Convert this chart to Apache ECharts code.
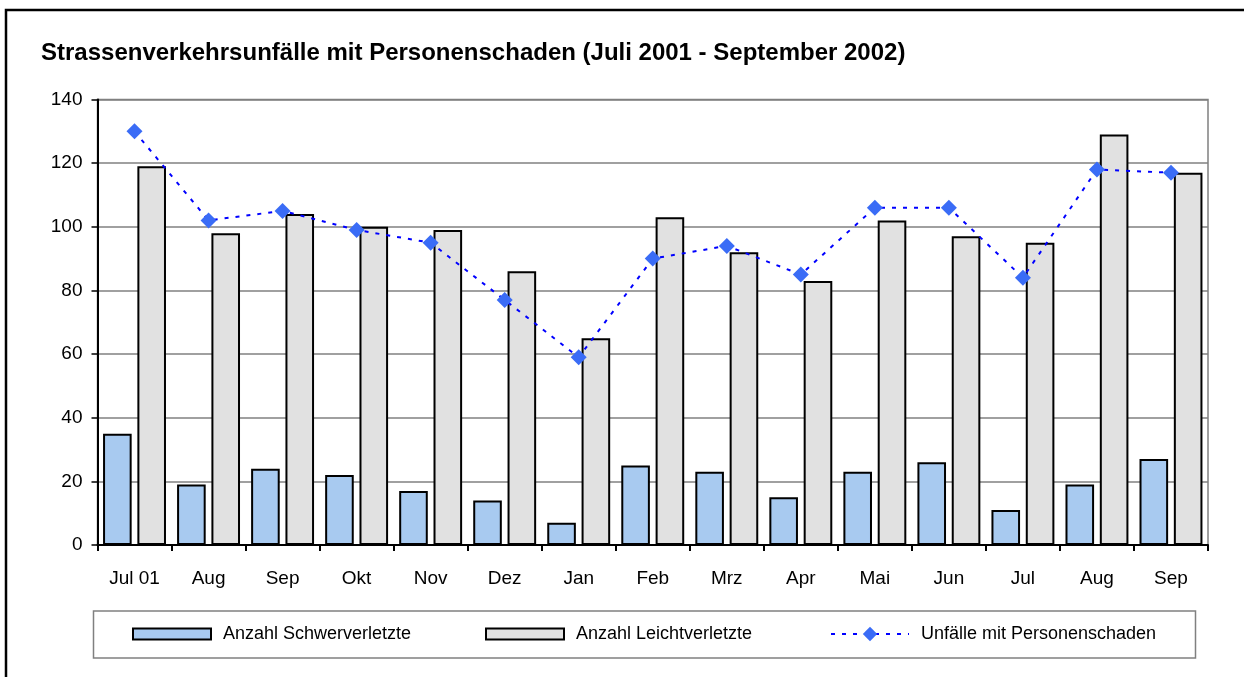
<!DOCTYPE html>
<html>
<head>
<meta charset="utf-8">
<script src="https://cdn.jsdelivr.net/npm/echarts@6/dist/echarts.min.js"></script>
<style>
html,body{margin:0;padding:0;background:#fff;}
#chart{width:1244px;height:677px;}
</style>
</head>
<body>
<div id="chart"></div>
<script>
const categories = ['Jul 01','Aug','Sep','Okt','Nov','Dez','Jan','Feb','Mrz','Apr','Mai','Jun','Jul','Aug','Sep'];
const schwerverletzte = [35,19,24,22,17,14,7,25,23,15,23,26,11,19,27];
const leichtverletzte = [119,98,104,100,99,86,65,103,92,83,102,97,95,129,117];
const unfaelle = [130,102,105,99,95,77,59,90,94,85,106,106,84,118,117];
const yTicks = {min:0, max:140, interval:20};
const seriesNames = ['Anzahl Schwerverletzte','Anzahl Leichtverletzte','Unfälle mit Personenschaden'];

const chart = echarts.init(document.getElementById('chart'), null, {renderer:'canvas'});
const font = 'Liberation Sans, Arial, sans-serif';
const legendText = {color:'#000', fontSize:18, fontFamily:font, padding:[0,0,0,7]};
chart.setOption({
  animation:false,
  backgroundColor:'#fff',
  title:{
    text:'Strassenverkehrsunfälle mit Personenschaden (Juli 2001 - September 2002)',
    left:41, top:41, padding:0,
    textStyle:{fontSize:24, fontWeight:'bold', color:'#000', fontFamily:font}
  },
  graphic:[
    {type:'rect', shape:{x:6, y:10, width:1300, height:700}, style:{fill:'none', stroke:'#000', lineWidth:2.5}, z:100},
    {type:'rect', shape:{x:93.5, y:611, width:1102, height:47}, style:{fill:'none', stroke:'#808080', lineWidth:1.5}, z:1}
  ],
  legend:[
    {data:[seriesNames[0]], icon:'rect', left:132, top:625, itemWidth:78, itemHeight:11, textStyle:legendText, padding:0},
    {data:[seriesNames[1]], icon:'rect', left:485, top:625, itemWidth:78, itemHeight:11, textStyle:legendText, padding:0},
    {data:[seriesNames[2]], left:830, top:625, itemWidth:78, itemHeight:18, textStyle:legendText, padding:0}
  ],
  grid:{left:97.5, right:36, top:99.5, bottom:132, show:true, borderColor:'#808080', borderWidth:1.5, backgroundColor:'transparent'},
  xAxis:{
    type:'category', data:categories,
    axisLine:{lineStyle:{color:'#000', width:2}},
    axisTick:{show:true, length:6, lineStyle:{color:'#000', width:2}},
    axisLabel:{color:'#000', fontSize:19, fontFamily:font, margin:24, interval:0}
  },
  yAxis:{
    type:'value', min:yTicks.min, max:yTicks.max, interval:yTicks.interval,
    axisLine:{show:true, lineStyle:{color:'#000', width:2}},
    axisTick:{show:true, length:6, lineStyle:{color:'#000', width:1.5}},
    axisLabel:{color:'#000', fontSize:19, fontFamily:font, margin:15},
    splitLine:{lineStyle:{color:'#808080', width:1.5}}
  },
  series:[
    {name:seriesNames[0], type:'bar', data:schwerverletzte, barGap:'20%', barCategoryGap:'15%',
     itemStyle:{color:'#a8caf0', borderColor:'#000', borderWidth:2}},
    {name:seriesNames[1], type:'bar', data:leichtverletzte,
     itemStyle:{color:'#e1e1e1', borderColor:'#000', borderWidth:2}},
    {name:seriesNames[2], type:'line', data:unfaelle, symbol:'diamond', symbolSize:16,
     itemStyle:{color:'#3a6cf6'},
     lineStyle:{color:'#0000ff', width:2, type:[4,7]}, z:5}
  ]
});
</script>
</body>
</html>
